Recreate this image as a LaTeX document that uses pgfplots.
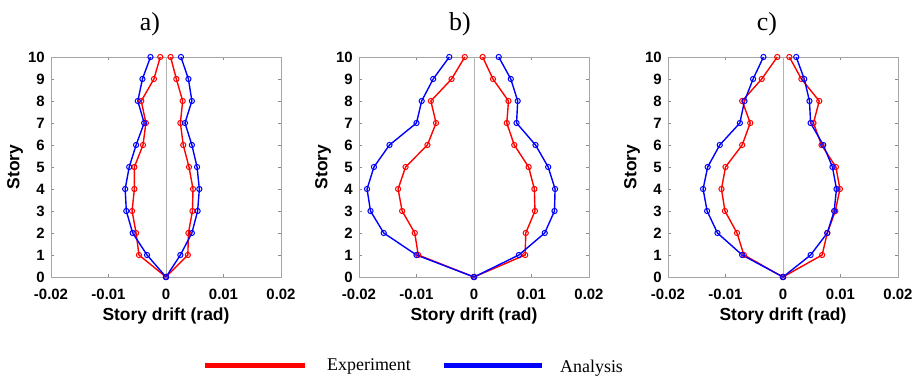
\documentclass[border=0pt]{standalone}
\usepackage{fontspec}
\setmainfont{Liberation Serif}
\newfontfamily\arialfont{Liberation Sans}
\usepackage{pgfplots}
\usepackage{pgfplotstable}
\pgfplotsset{compat=1.18}

\pgfplotstableread{
story anaL expL expR anaR
0 0 0 0 0
1 -0.0033 -0.0047 0.0038 0.0025
2 -0.0058 -0.0052 0.0039 0.0045
3 -0.0069 -0.0059 0.0046 0.0055
4 -0.0071 -0.0055 0.0047 0.0058
5 -0.0064 -0.0055 0.0040 0.0054
6 -0.0052 -0.0040 0.0030 0.0045
7 -0.0038 -0.0035 0.0025 0.0033
8 -0.0049 -0.0043 0.0029 0.0045
9 -0.0041 -0.0021 0.0018 0.0039
10 -0.0027 -0.0010 0.0008 0.0026
}\dataA

\pgfplotstableread{
story anaL expL expR anaR
0 0 0 0 0
1 -0.0100 -0.0097 0.0089 0.0078
2 -0.0157 -0.0103 0.0090 0.0123
3 -0.0180 -0.0125 0.0106 0.0140
4 -0.0186 -0.0132 0.0105 0.0141
5 -0.0174 -0.0119 0.0095 0.0129
6 -0.0147 -0.0081 0.0070 0.0107
7 -0.0100 -0.0066 0.0057 0.0074
8 -0.0091 -0.0075 0.0060 0.0076
9 -0.0071 -0.0039 0.0033 0.0064
10 -0.0043 -0.0016 0.0015 0.0043
}\dataB

\pgfplotstableread{
story anaL expL expR anaR
0 0 0 0 0
1 -0.0071 -0.0068 0.0068 0.0048
2 -0.0114 -0.0080 0.0077 0.0077
3 -0.0132 -0.0101 0.0091 0.0089
4 -0.0139 -0.0107 0.0099 0.0093
5 -0.0131 -0.0100 0.0092 0.0086
6 -0.0110 -0.0071 0.0067 0.0070
7 -0.0075 -0.0057 0.0053 0.0048
8 -0.0067 -0.0071 0.0063 0.0046
9 -0.0052 -0.0037 0.0032 0.0037
10 -0.0034 -0.0010 0.0011 0.0023
}\dataC

\pgfplotsset{
  driftaxis/.style={
    anchor=south west,
    width=230bp, height=220bp, scale only axis,
    xmin=-0.02, xmax=0.02, ymin=0, ymax=10,
    scaled x ticks=false, scaled y ticks=false,
    xtick={-0.02,-0.01,0,0.01,0.02},
    xticklabels={-0.02,-0.01,0,0.01,0.02},
    ytick={0,1,2,3,4,5,6,7,8,9,10},
    yticklabels={0,1,2,3,4,5,6,7,8,9,10},
    tick label style={font=\arialfont\bfseries\fontsize{15}{15}\selectfont, inner sep=0pt},
    xticklabel style={anchor=north, yshift=-12bp},
    yticklabel style={anchor=east, xshift=-6bp},
    axis line style={draw=black!35},
    tick style={draw=black!45, line width=0.6pt},
    major tick length=3bp,
    clip=false,
  },
  exp/.style={red, line width=1.4bp, mark=o, mark size=2.6bp, mark options={solid, line width=1bp}},
  ana/.style={blue, line width=1.4bp, mark=o, mark size=2.6bp, mark options={solid, line width=1bp}},
  zero/.style={black!30, line width=0.8bp, forget plot},
}

\newcommand{\labfont}{\arialfont\bfseries\fontsize{17.5}{17.5}\selectfont}
\newcommand{\titfont}{\fontsize{26}{26}\selectfont}

\begin{document}
\begin{tikzpicture}
\useasboundingbox (0bp,0bp) rectangle (921bp,378bp);

% ---- panel a ----
\begin{axis}[driftaxis, at={(51bp,101bp)}]
\addplot[zero] coordinates {(0,0) (0,10)};
\addplot[exp] table[x=expL, y=story] {\dataA};
\addplot[exp] table[x=expR, y=story] {\dataA};
\addplot[ana] table[x=anaL, y=story] {\dataA};
\addplot[ana] table[x=anaR, y=story] {\dataA};
\end{axis}

% ---- panel b ----
\begin{axis}[driftaxis, at={(359bp,101bp)}]
\addplot[zero] coordinates {(0,0) (0,10)};
\addplot[exp] table[x=expL, y=story] {\dataB};
\addplot[exp] table[x=expR, y=story] {\dataB};
\addplot[ana] table[x=anaL, y=story] {\dataB};
\addplot[ana] table[x=anaR, y=story] {\dataB};
\end{axis}

% ---- panel c ----
\begin{axis}[driftaxis, at={(668bp,101bp)}]
\addplot[zero] coordinates {(0,0) (0,10)};
\addplot[exp] table[x=expL, y=story] {\dataC};
\addplot[exp] table[x=expR, y=story] {\dataC};
\addplot[ana] table[x=anaL, y=story] {\dataC};
\addplot[ana] table[x=anaR, y=story] {\dataC};
\end{axis}

% titles
\node[font=\titfont] at (150bp,354bp) {a)};
\node[font=\titfont] at (460bp,354bp) {b)};
\node[font=\titfont] at (767bp,354bp) {c)};

% x labels
\foreach \cx in {166,474,783}{
  \node[font=\labfont, anchor=north, inner sep=0pt] at (\cx bp,70bp) {Story drift (rad)};
}
% y labels
\foreach \lx in {15,323,632}{
  \node[font=\labfont, rotate=90, inner sep=0pt] at (\lx bp,211bp) {Story};
}

% legend
\draw[red, line width=5bp] (205bp,12bp) -- (305bp,12bp);
\node[font=\fontsize{18}{18}\selectfont, anchor=west, inner sep=0pt] at (327bp,12bp) {Experiment};
\draw[blue, line width=5bp] (444bp,12bp) -- (542bp,12bp);
\node[font=\fontsize{18}{18}\selectfont, anchor=west, inner sep=0pt] at (560bp,10bp) {Analysis};
\end{tikzpicture}
\end{document}
